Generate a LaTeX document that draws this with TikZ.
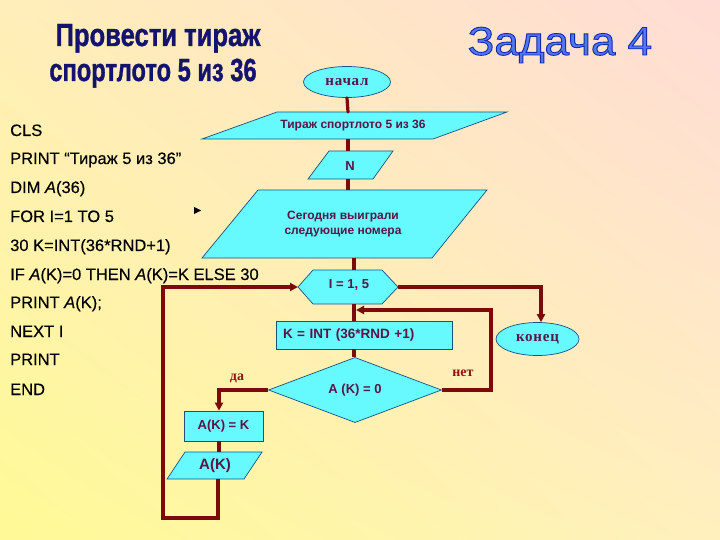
\documentclass[tikz,border=0pt]{standalone}
\usepackage{fontspec}
\setmainfont{Liberation Sans}
\newfontfamily\serifb[LetterSpace=5]{Liberation Serif}
\newfontfamily\serifl{Liberation Serif}
\newfontfamily\titlefont[FakeBold=1.2]{Liberation Sans}
\newfontfamily\zadfont[FakeBold=2.2]{Liberation Sans}
\newfontfamily\codefont[FakeBold=0.3]{Liberation Sans}
\usetikzlibrary{arrows.meta,shapes.geometric,shadings}
\definecolor{cyanc}{RGB}{102,250,255}
\definecolor{bordc}{RGB}{30,80,130}
\definecolor{linec}{RGB}{125,10,10}
\definecolor{txtc}{RGB}{90,20,70}
\definecolor{navyc}{RGB}{20,20,110}
\definecolor{labc}{RGB}{140,20,20}
\definecolor{zadin}{RGB}{80,120,240}
\definecolor{bgul}{RGB}{255,238,185}
\definecolor{bgur}{RGB}{255,220,214}
\definecolor{bgll}{RGB}{255,250,150}
\definecolor{bglr}{RGB}{255,240,190}
\begin{document}
\begin{tikzpicture}[x=1pt,y=-1pt,
  shp/.style={draw=bordc,fill=cyanc,line width=0.7pt},
  stxt/.style={text=txtc,font=\bfseries\fontsize{12}{14}\selectfont,inner sep=0pt},
  sertxt/.style={text=txtc,font=\serifb\bfseries\fontsize{15}{16}\selectfont},
  code/.style={anchor=base west,inner sep=0pt,font=\codefont\fontsize{16.5}{18}\selectfont},
  conn/.style={draw=linec,line width=3.2pt},
  arr/.style={conn,-{Triangle[length=8pt,width=8pt]}},
  lab/.style={text=labc,font=\serifl\bfseries\fontsize{14}{15}\selectfont}]
\useasboundingbox (0,0) rectangle (720,540);
\shade[upper left=bgul,upper right=bgur,lower left=bgll,lower right=bglr]
  (0,0) rectangle (720,540);

% titles
\node[anchor=base,inner sep=0pt,text=navyc,font=\titlefont\bfseries\fontsize{32}{34}\selectfont] (t1) at (158,46) {\scalebox{0.8}[1]{Провести тираж}};
\node[anchor=base,inner sep=0pt,text=navyc,font=\titlefont\bfseries\fontsize{32}{34}\selectfont] (t2) at (153,81) {\scalebox{0.74}[1]{спортлото 5 из 36}};
\node[anchor=base,inner sep=0pt,text=zadin,font=\zadfont\fontsize{40}{42}\selectfont] (zad) at (560,55)
  {\special{pdf:code 0.08 0.16 0.67 RG}\scalebox{1.1}[1]{Задача 4}};

% code listing
\node[code] (c1) at (10,136) {CLS};
\node[code] (c2) at (10,164) {PRINT “Тираж 5 из 36”};
\node[code] (c3) at (10,193) {DIM \textit{A}(36)};
\node[code] (c4) at (10,222) {FOR I=1 TO 5};
\node[code] (c5) at (10,251) {30 K=INT(36*RND+1)};
\node[code] (c6) at (10,280) {IF \textit{A}(K)=0 THEN \textit{A}(K)=K ELSE 30};
\node[code] (c7) at (10,308) {PRINT \textit{A}(K);};
\node[code] (c8) at (10,337) {NEXT I};
\node[code] (c9) at (10,365) {PRINT};
\node[code] (c10) at (10,395) {END};
\fill[black] (194,207) -- (201,210.5) -- (194,214) -- cycle;

% shapes
\node[ellipse,shp,minimum width=87pt,minimum height=31pt,inner sep=0pt,sertxt] (start) at (347,82) {начал};
\path[shp] (277,112) -- (507,112) -- (433,139) -- (202,139) -- cycle;
\node[stxt] (p1) at (353,126) {Тираж спортлото 5 из 36};
\path[shp] (329,151) -- (393,151) -- (373,179) -- (308,179) -- cycle;
\node[stxt,font=\bfseries\fontsize{13}{14}\selectfont] (p2) at (350,166) {N};
\path[shp] (258,190) -- (487,190) -- (432,258) -- (202,258) -- cycle;
\node[stxt,align=center,font=\bfseries\fontsize{12}{14.5}\selectfont] (p3) at (343,224) {Сегодня выиграли\\следующие номера};
\path[shp] (298,287) -- (313,270) -- (382,270) -- (398,287) -- (382,304) -- (313,304) -- cycle;
\node[stxt,font=\bfseries\fontsize{13}{14}\selectfont] (hex) at (349,285) {I = 1, 5};
\node[rectangle,shp,minimum height=28pt,text width=162pt,inner xsep=7pt,inner ysep=0pt,align=left,
  text=txtc,font=\bfseries\fontsize{13.5}{15}\selectfont] (kbox) at (364,335) {K = INT (36*RND +1)};
\node[diamond,shp,minimum width=173pt,minimum height=56pt,inner sep=0pt,
  text=txtc,font=\bfseries\fontsize{13}{15}\selectfont] (dia) at (355,390) {A (K) = 0};
\node[rectangle,shp,minimum width=79pt,minimum height=30pt,inner sep=0pt,
  text=txtc,font=\bfseries\fontsize{13}{15}\selectfont] (akbox) at (223.5,426) {A(K) = K};
\path[shp] (185,452) -- (262,452) -- (244,479) -- (167,479) -- cycle;
\node[stxt,font=\bfseries\fontsize{15}{16}\selectfont] (p4) at (215,466) {A(K)};
\node[ellipse,shp,minimum width=83pt,minimum height=33pt,inner sep=0pt,sertxt] (fin) at (537.5,339) {конец};

% anchor coordinates
\coordinate (p1n) at (348,112);
\coordinate (p1s) at (348,139);
\coordinate (p2n) at (348,151);
\coordinate (p2s) at (348,179);
\coordinate (p3n) at (348,190);
\coordinate (p3s) at (354,258);
\coordinate (hexn) at (354,270);
\coordinate (hexs) at (354,304);
\coordinate (hexw) at (298,287);
\coordinate (hexe) at (398,287);
\coordinate (p4n) at (219,452);
\coordinate (p4s) at (218,479);
\coordinate (back) at (356,310);
\coordinate (finx) at (541,0);

% connectors
\draw[conn,line cap=round] (start.south) -- (p1n);
\draw[conn] (p1s) -- (p2n);
\draw[conn] (p2s) -- (p3n);
\draw[conn] (p3s) -- (hexn);
\draw[conn] (hexs) -- (kbox.north -| hexs);
\draw[conn] (kbox.south -| hexs) -- (dia.north -| hexs);
\draw[arr] (dia.east) -- (491,390) -- (491,310) -- (back);
\draw[arr] (dia.west) -- (219,390) -- (akbox.north -| p4n);
\draw[conn] (akbox.south -| p4n) -- (p4n);
\draw[arr] (p4s) -- (218,518) -- (163,518) -- (163,287) -- (hexw);
\draw[arr] (hexe) -- (541,287) -- (fin.north -| finx);

% labels
\node[lab] (da) at (237,378) {да};
\node[lab] (net) at (463,373) {нет};
\end{tikzpicture}
\end{document}
